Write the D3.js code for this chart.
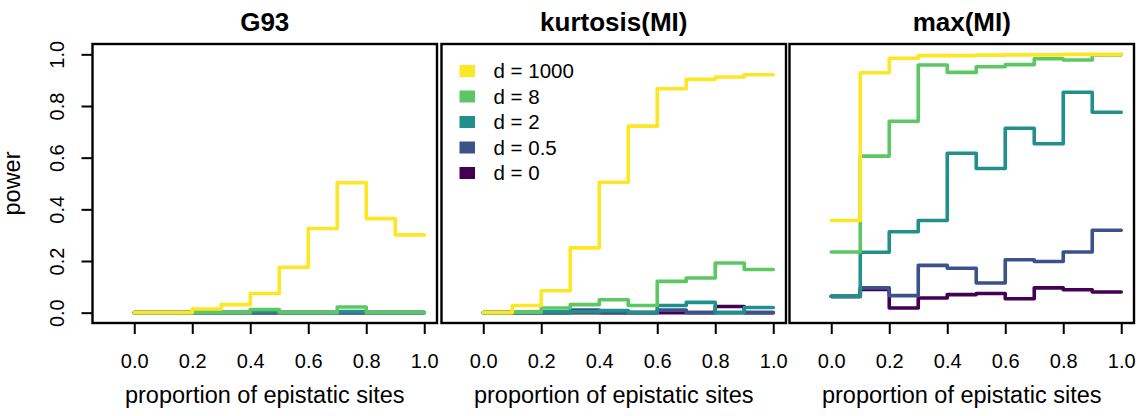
<!DOCTYPE html>
<html>
<head>
<meta charset="utf-8">
<script src="https://cdn.jsdelivr.net/npm/d3@7"></script>
<style>
  body { margin: 0; background: #fff; }
  svg { font-family: "Liberation Sans", Arial, Helvetica, sans-serif; }
</style>
</head>
<body>
<div id="chart"><svg></svg></div>
<script>
// proportion of epistatic sites
var props = [0, 0.1, 0.2, 0.3, 0.4, 0.5, 0.6, 0.7, 0.8, 0.9, 1.0];
var tickValues = [0, 0.2, 0.4, 0.6, 0.8, 1.0];
var panelTitles = ["G93", "kurtosis(MI)", "max(MI)"];
var seriesLabels = ["d = 1000", "d = 8", "d = 2", "d = 0.5", "d = 0"];
var seriesColors = ["#FDE725", "#5DC863", "#21908C", "#3B528B", "#440154"];

// power, one array per panel and per d
var g93_d1000 = [0, 0, 0.014, 0.031, 0.074, 0.176, 0.326, 0.503, 0.364, 0.301, 0.30];
var g93_d8    = [0, 0, 0, 0, 0.012, 0, 0, 0.022, 0, 0, 0];
var g93_d2    = [0, 0, 0, 0, 0.004, 0, 0, 0.004, 0, 0, 0];
var g93_d05   = [0, 0, 0, 0, 0, 0, 0, 0, 0, 0, 0];
var g93_d0    = [0, 0, 0, 0, 0, 0, 0, 0, 0, 0, 0];

var kurt_d1000 = [0, 0.028, 0.085, 0.251, 0.505, 0.722, 0.867, 0.903, 0.912, 0.921, 0.921];
var kurt_d8    = [0, 0.002, 0.018, 0.031, 0.050, 0.028, 0.121, 0.134, 0.192, 0.167, 0.167];
var kurt_d2    = [0, 0, 0.003, 0.003, 0.008, 0, 0.028, 0.040, 0, 0.020, 0.020];
var kurt_d05   = [0, 0, 0, 0.010, 0, 0, 0.010, 0, 0, 0, 0];
var kurt_d0    = [0, 0, 0, 0, 0, 0, 0, 0, 0.024, 0, 0];

var max_d1000 = [0.357, 0.929, 0.985, 0.995, 0.995, 0.997, 0.998, 0.998, 1.0, 1.0, 1.0];
var max_d8    = [0.235, 0.606, 0.741, 0.959, 0.930, 0.952, 0.960, 0.983, 0.978, 0.998, 1.0];
var max_d2    = [0.063, 0.234, 0.313, 0.357, 0.617, 0.558, 0.714, 0.654, 0.853, 0.776, 0.776];
var max_d05   = [0.063, 0.096, 0.066, 0.183, 0.172, 0.115, 0.205, 0.198, 0.235, 0.319, 0.319];
var max_d0    = [0.063, 0.090, 0.018, 0.057, 0.070, 0.074, 0.054, 0.096, 0.089, 0.080, 0.080];

var panelData = [
    [g93_d1000, g93_d8, g93_d2, g93_d05, g93_d0],
    [kurt_d1000, kurt_d8, kurt_d2, kurt_d05, kurt_d0],
    [max_d1000, max_d8, max_d2, max_d05, max_d0]
];

var width = 1140;
var height = 416;
var boxTop = 44;
var boxBottom = 323;
var boxLefts = [92.5, 441.5, 789.5];
var boxWidth = 344.5;

var svg = d3.select("#chart svg")
    .attr("width", width)
    .attr("height", height);

var y = d3.scaleLinear()
    .domain([-0.04, 1.04])
    .range([boxBottom, boxTop]);

panelData.forEach(function(series, p) {
    var left = boxLefts[p];
    var x = d3.scaleLinear()
        .domain([-0.144, 1.044])
        .range([left, left + boxWidth]);

    var g = svg.append("g").attr("class", "panel");

    var line = d3.line()
        .x(function(d, i) { return x(props[i]); })
        .y(function(d) { return y(d); })
        .curve(d3.curveStepAfter);

    // draw d = 0 first so the yellow ends on top
    d3.range(series.length - 1, -1, -1).forEach(function(k) {
        g.append("path")
            .datum(series[k])
            .attr("d", line)
            .attr("fill", "none")
            .attr("stroke", seriesColors[k])
            .attr("stroke-width", 3.6)
            .attr("stroke-linecap", "round")
            .attr("stroke-linejoin", "round");
    });

    g.append("rect")
        .attr("x", left)
        .attr("y", boxTop)
        .attr("width", boxWidth)
        .attr("height", boxBottom - boxTop)
        .attr("fill", "none")
        .attr("stroke", "#000")
        .attr("stroke-width", 2.4);

    var xAxis = g.append("g")
        .attr("transform", "translate(0," + boxBottom + ")")
        .call(d3.axisBottom(x)
            .tickValues(tickValues)
            .tickFormat(d3.format(".1f"))
            .tickSize(11)
            .tickPadding(20));
    xAxis.select(".domain").remove();
    xAxis.selectAll(".tick line").attr("stroke", "#000").attr("stroke-width", 2);
    xAxis.selectAll(".tick text")
        .attr("fill", "#000")
        .style("font-size", "20px")
        .style("font-family", "'Liberation Sans', Arial, sans-serif");

    g.append("text")
        .attr("x", left + boxWidth / 2)
        .attr("y", 403)
        .attr("text-anchor", "middle")
        .style("font-size", "23.5px")
        .text("proportion of epistatic sites");

    g.append("text")
        .attr("x", left + boxWidth / 2)
        .attr("y", 31)
        .attr("text-anchor", "middle")
        .style("font-size", "26px")
        .style("font-weight", "bold")
        .text(panelTitles[p]);

    if (p === 0) {
        var yAxis = g.append("g")
            .attr("transform", "translate(" + left + ",0)")
            .call(d3.axisLeft(y)
                .tickValues(tickValues)
                .tickFormat(d3.format(".1f"))
                .tickSize(11));
        yAxis.select(".domain").remove();
        yAxis.selectAll(".tick line").attr("stroke", "#000").attr("stroke-width", 2);
        yAxis.selectAll(".tick text")
            .attr("fill", "#000")
            .attr("transform", "rotate(-90)")
            .attr("x", 0)
            .attr("y", -29)
            .attr("dy", 0)
            .attr("text-anchor", "middle")
            .style("font-size", "20px")
            .style("font-family", "'Liberation Sans', Arial, sans-serif");

        g.append("text")
            .attr("transform", "translate(20," + (boxTop + boxBottom) / 2 + ") rotate(-90)")
            .attr("text-anchor", "middle")
            .style("font-size", "23.5px")
            .text("power");
    }

    if (p === 1) {
        var legend = g.selectAll(".legend-item")
            .data(seriesLabels)
            .enter()
            .append("g")
            .attr("class", "legend-item")
            .attr("transform", function(d, i) { return "translate(" + (left + 18) + "," + (71 + i * 25.5) + ")"; });

        legend.append("rect")
            .attr("x", 0)
            .attr("y", -6)
            .attr("width", 15.5)
            .attr("height", 12)
            .attr("fill", function(d, i) { return seriesColors[i]; });

        legend.append("text")
            .attr("x", 34)
            .attr("y", 7)
            .style("font-size", "20.5px")
            .text(function(d) { return d; });
    }
});
</script>
</body>
</html>
